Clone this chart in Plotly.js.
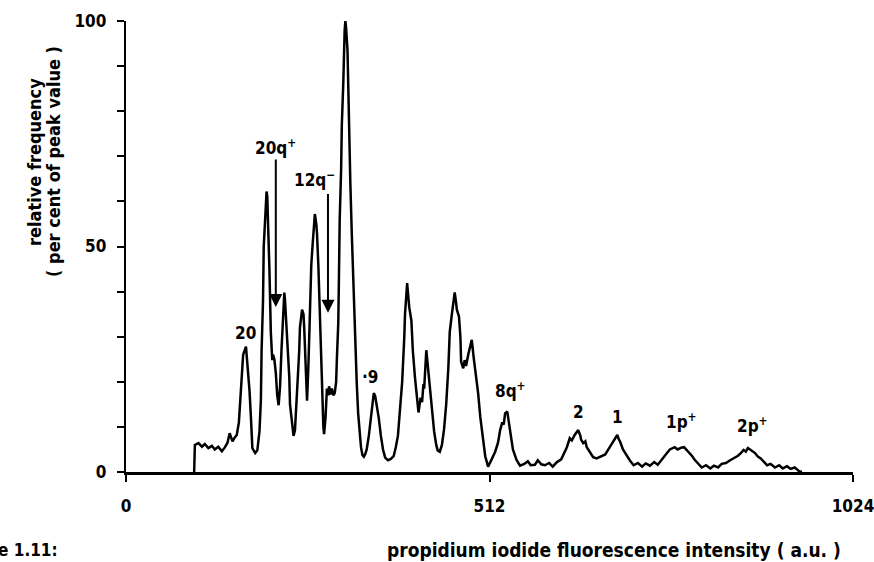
<!DOCTYPE html>
<html>
<head>
<meta charset="utf-8">
<script src="https://cdn.plot.ly/plotly-3.0.1.min.js"></script>
<style>
  html, body { margin: 0; padding: 0; background: #fff; }
  #chart { width: 874px; height: 562px; }
</style>
</head>
<body>
<div id="chart"></div>
<script>
// Flow karyotype: channel number (a.u.) against relative frequency (% of peak)
const channel = [
  96, 97, 102, 107, 111, 116, 121, 125, 130, 135, 139, 143, 146, 150, 153, 156, 159,
  161, 163, 165, 169, 170, 172, 174, 176, 178, 182, 185, 188,
  190, 191, 193, 194, 196, 197, 198, 199, 200, 201, 202, 204, 206, 207, 209, 211, 213, 215,
  217, 219, 221, 223, 224, 226, 228, 230, 231, 234, 236, 238,
  240, 242, 244, 245, 248, 250, 251, 253, 254, 255,
  257, 259, 261, 263, 265, 266, 268, 269, 271, 273, 275, 276, 278, 279,
  281, 283, 285, 286, 288, 290, 292, 294, 296,
  297, 299, 300, 301, 303, 304, 306, 307, 308, 309, 310, 312, 313, 315, 316, 318, 320, 321, 323, 325, 327, 329, 331, 333, 335, 337,
  339, 342, 345, 347, 349, 351, 353, 356, 359, 362, 365, 369, 373, 377, 380,
  383, 386, 389, 392, 393, 395, 396, 397, 399, 402, 404, 407, 410, 412, 415, 417, 419, 420, 423, 425, 428, 431, 434, 437, 439, 442,
  445, 448, 451, 454, 456, 459, 461, 463, 465, 466, 469, 471, 472, 475, 477, 479, 482, 485, 487, 490, 493, 496, 499, 503, 506, 510, 513,
  515, 520, 524, 527, 530, 532, 534, 537, 539, 541, 545, 550, 555,
  561, 566, 570, 576, 580, 585, 590, 596, 601, 607, 613,
  617, 621, 625, 628, 632, 637, 640, 641, 644, 647, 649, 654, 658, 663, 668, 675, 679, 684, 689, 692, 694, 696, 700, 706, 710, 715,
  721, 727, 732, 738, 744, 749, 754,
  758, 762, 766, 771, 773, 777, 782, 786, 789, 793, 797, 801, 806, 811, 817, 823,
  828, 834, 839, 845, 851, 856, 862, 866, 870, 873, 876, 879, 882, 886, 890, 894, 899, 903, 908, 914, 920, 925, 931, 936, 942, 948, 952
];

const freq = [
  0, 6.0, 6.4, 5.6, 6.2, 5.3, 5.8, 5.0, 5.6, 4.6, 5.4, 6.5, 8.6, 6.8, 7.6, 8.2, 11,
  16, 22, 26, 27.8, 26, 23, 18, 12, 5.3, 4.2, 4.8, 9,
  16, 27, 38, 50, 56.6, 61, 62.2, 61, 57, 51, 45, 31, 24.8, 26, 25, 22, 17, 14.8,
  19, 27, 34.5, 39.8, 38, 33, 27, 21, 15, 10, 8, 9.3,
  14, 21, 27, 32, 36, 35, 32, 24.8, 20, 15.8,
  24, 37, 46, 50.7, 54, 57.2, 55, 53, 45.5, 35, 24, 15, 10, 8.4,
  12, 18.5, 17, 19, 17.2, 18.5, 17, 17.5, 20,
  25, 33, 44, 56, 67, 77, 86, 94, 98, 100, 98.5, 93.5, 85, 75, 64, 53, 43, 34.5, 27, 19.7, 13, 8.6, 5.5, 3.8, 3.4, 4.0,
  5, 8, 12, 15.5, 17.5, 16.8, 15, 12, 8, 5, 3.2, 2.6, 2.9, 3.5, 5.5,
  8, 14, 20, 30, 35, 39.5, 41.9, 40, 36.5, 33.5, 27, 21, 16, 13.2, 16.5, 15.5, 19.5, 18.5, 27, 23.5, 19, 14, 9, 6, 4.8, 4.5,
  6, 9.5, 15, 23, 31, 35, 37.5, 39.8, 37.5, 36, 34.5, 30, 24.5, 23, 24.8, 23.5, 26, 28, 29.3, 25, 21.5, 17.5, 12.2, 7, 3.5, 1.2, 2,
  2.8, 4.5, 6.5, 9.3, 11, 10.5, 13, 13.4, 11, 9, 5, 2.7, 1.4,
  1.8, 2.4, 1.5, 1.6, 2.6, 1.7, 1.5, 2.0, 1.2, 2.2, 2.8,
  4, 5.5, 7.5, 7, 8.2, 9.3, 8, 7.2, 6.4, 6.8, 5.5, 4.4, 3.3, 3, 3.4, 3.9, 4.9, 6.2, 7.5, 8.2, 7.3, 6.7, 5, 3.3, 2.5, 1.5,
  2.0, 1.2, 1.9, 1.4, 2.2, 1.6, 2.7,
  3.6, 4.2, 5.0, 5.3, 5.5, 5.0, 5.4, 5.5, 5.0, 4.2, 3.6, 2.7, 1.8, 1.0, 1.5, 0.8,
  1.4, 1.0, 1.8, 2.0, 2.6, 3.0, 3.6, 4.2, 4.9, 4.5, 5.3, 5.0, 4.6, 4.2, 3.4, 3.0, 2.2, 1.5, 1.8, 1.0, 1.5, 0.8, 1.3, 0.7, 1.0, 0.2, 0
];

// Axis ticks
const yTickVals = [0, 10, 20, 30, 40, 50, 60, 70, 80, 90, 100];
const yTickText = ['0', '', '', '', '', '50', '', '', '', '', '100'];
const xTickVals = [0, 512, 1024];
const xTickText = ['0', '512', '1024'];

// Chromosome peak labels
const peakLabels = ['20', '20q<sup>+</sup>', '12q<sup>\u2212</sup>', '\u00b79', '8q<sup>+</sup>', '2', '1', '1p<sup>+</sup>', '2p<sup>+</sup>'];
const peakLabelX = [168, 210, 266, 343, 541, 637, 692, 783, 882];
const peakLabelY = [30.8, 72, 65, 21, 18.2, 13.3, 12.2, 11.3, 10.4];

// Arrows marking the derivative chromosomes
const arrowX = [211, 284.5];
const arrowFrom = [69.6, 62];
const arrowTo = [36.6, 35.3];

// Axis title lines
const yTitleLines = ['relative frequency', '( per cent of peak value )'];
const xTitle = 'propidium iodide fluorescence intensity ( a.u. )';
const figLabel = 'Figure 1.11:';

const FONT = 'Liberation Sans Narrow, Arial Narrow, DejaVu Sans Condensed, sans-serif';
const BLACK = '#000';
// plot frame in page pixels
const PLOT_L = 126, PLOT_W = 727, PLOT_T = 21, PLOT_B = 472;
const PLOT_H = PLOT_B - PLOT_T;
const px2paperX = p => (p - PLOT_L) / PLOT_W;
const px2paperY = p => (PLOT_B - p) / PLOT_H;

const annotations = [];
peakLabels.forEach((t, i) => {
  annotations.push({
    x: peakLabelX[i], y: peakLabelY[i], xref: 'x', yref: 'y',
    text: t, showarrow: false, xanchor: 'center', yanchor: 'middle',
    font: { family: FONT, size: 17, color: BLACK, weight: 'bold' }
  });
});
arrowX.forEach((ax, i) => {
  annotations.push({
    x: ax, y: arrowTo[i], ax: ax, ay: arrowFrom[i],
    xref: 'x', yref: 'y', axref: 'x', ayref: 'y',
    text: '', showarrow: true, arrowhead: 2, arrowsize: 1.3, arrowwidth: 2,
    arrowcolor: BLACK, standoff: 0, startstandoff: 0
  });
});
// Axis titles
annotations.push({
  xref: 'paper', yref: 'paper', x: px2paperX(614), y: px2paperY(550),
  text: xTitle, showarrow: false, xanchor: 'center', yanchor: 'middle',
  font: { family: FONT, size: 19, color: BLACK, weight: 'bold' }
});
yTitleLines.forEach((t, i) => {
  annotations.push({
    xref: 'paper', yref: 'paper', x: px2paperX(34 + 19 * i), y: px2paperY(162),
    text: t, textangle: -90, showarrow: false, xanchor: 'center', yanchor: 'middle',
    font: { family: FONT, size: 18, color: BLACK, weight: 'bold' }
  });
});
annotations.push({
  xref: 'paper', yref: 'paper', x: px2paperX(60), y: px2paperY(550),
  text: figLabel, showarrow: false, xanchor: 'right', yanchor: 'middle',
  font: { family: FONT, size: 17, color: BLACK, weight: 'bold' }
});

const trace = {
  x: channel, y: freq, type: 'scatter', mode: 'lines',
  line: { color: BLACK, width: 2.5, shape: 'linear' },
  cliponaxis: false, hoverinfo: 'skip'
};

const layout = {
  width: 874, height: 562,
  margin: { l: PLOT_L, r: 874 - PLOT_L - PLOT_W, t: PLOT_T, b: 562 - PLOT_B, pad: 0 },
  paper_bgcolor: '#fff', plot_bgcolor: '#fff',
  showlegend: false,
  xaxis: {
    range: [0, 1024], showgrid: false, zeroline: false,
    showline: true, linecolor: BLACK, linewidth: 2.5,
    ticks: 'outside', ticklen: 7, tickwidth: 2, tickcolor: BLACK,
    tickvals: xTickVals, ticktext: xTickText, ticklabelstandoff: 10,
    ticklabeloverflow: 'allow',
    tickfont: { family: FONT, size: 17, color: BLACK, weight: 'bold' },
    fixedrange: true
  },
  yaxis: {
    range: [0, 100], showgrid: false, zeroline: false,
    showline: true, linecolor: BLACK, linewidth: 2.2,
    ticks: 'outside', ticklen: 7, tickwidth: 2, tickcolor: BLACK,
    tickvals: yTickVals, ticktext: yTickText, ticklabelstandoff: 7,
    ticklabeloverflow: 'allow',
    tickfont: { family: FONT, size: 17, color: BLACK, weight: 'bold' },
    fixedrange: true
  },
  annotations: annotations
};

Plotly.newPlot('chart', [trace], layout, { staticPlot: true, displayModeBar: false });
</script>
</body>
</html>
